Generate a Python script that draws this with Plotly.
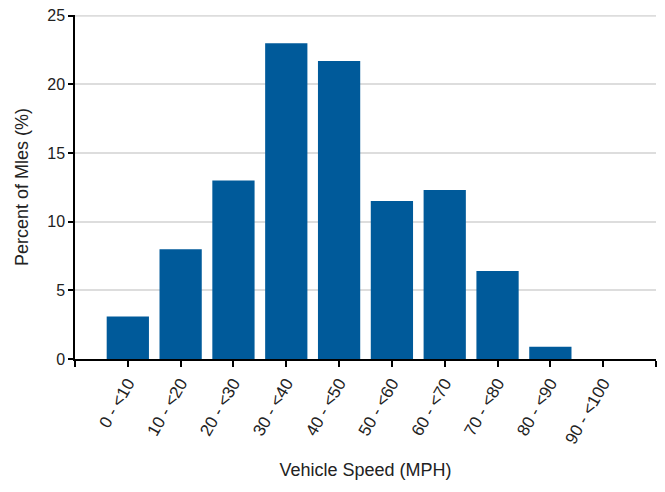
import plotly.graph_objects as go

categories = ["0 - <10", "10 - <20", "20 - <30", "30 - <40", "40 - <50",
              "50 - <60", "60 - <70", "70 - <80", "80 - <90", "90 - <100"]
percent_miles = [3.1, 8.0, 13.0, 23.0, 21.7, 11.5, 12.3, 6.4, 0.9, 0.0]
y_ticks = [0, 5, 10, 15, 20, 25]

xpos = list(range(len(categories)))

fig = go.Figure()
fig.add_trace(go.Bar(
    x=xpos, y=percent_miles, width=0.8,
    marker=dict(color="#005A9A", line=dict(width=0)),
    hoverinfo="skip",
))

# gridline at the top tick (plotly skips grid lines at the range edge)
fig.add_shape(type="line", xref="paper", yref="y", x0=0, x1=1,
              y0=y_ticks[-1], y1=y_ticks[-1],
              line=dict(color="#dddddd", width=2), layer="below")

font_family = "Liberation Sans, Arial, sans-serif"
fig.update_layout(
    width=657, height=484,
    margin=dict(l=67, r=9, t=7, b=133, autoexpand=False),
    paper_bgcolor="white", plot_bgcolor="white",
    showlegend=False,
    font=dict(family=font_family, size=16, color="#222"),
    xaxis=dict(
        range=[-1, len(categories)],
        tickmode="array",
        tickvals=[-1] + xpos + [len(categories)],
        ticktext=[""] + categories + [""],
        tickangle=-60,
        ticks="outside", ticklen=6, tickwidth=1.5, tickcolor="black",
        showline=True, linecolor="black", linewidth=1.5,
        showgrid=False, zeroline=False,
        tickfont=dict(size=17, color="#222"),
        automargin=False,
        title=dict(text="Vehicle Speed (MPH)", font=dict(size=18, color="#222"), standoff=17),
    ),
    yaxis=dict(
        range=[0, 25.05],
        tickmode="array", tickvals=y_ticks,
        ticks="outside", ticklen=5, tickwidth=1.5, tickcolor="black",
        showline=True, linecolor="black", linewidth=1.5,
        showgrid=True, gridcolor="#dddddd", gridwidth=2,
        zeroline=False,
        tickfont=dict(size=16, color="#222"),
        ticklabeloverflow="allow",
        automargin=False,
        title=dict(text="Percent of Mles (%)", font=dict(size=18, color="#222"), standoff=14),
    ),
)

fig.write_html("out.html")
